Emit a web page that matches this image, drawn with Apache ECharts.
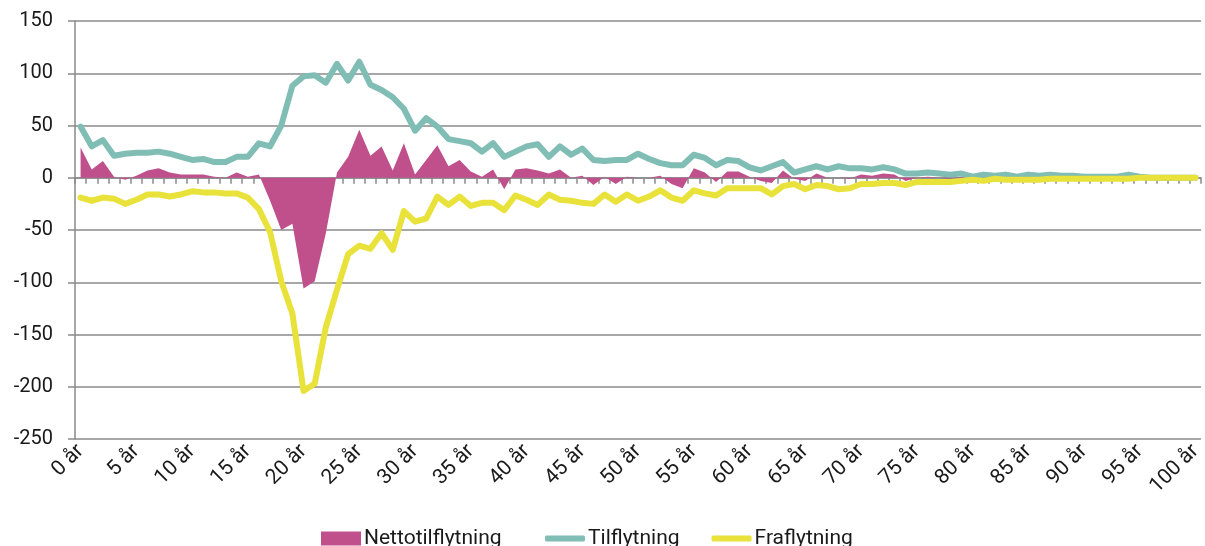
<!DOCTYPE html>
<html>
<head>
<meta charset="utf-8">
<script src="https://cdn.jsdelivr.net/npm/echarts@6/dist/echarts.min.js"></script>
<style>
html,body{margin:0;padding:0;background:#fff;}
#chart{width:1205px;height:546px;}
</style>
</head>
<body>
<div id="chart"></div>
<script>
const categories = [];
for (let a = 0; a <= 100; a++) categories.push(a + ' år');

const yTicks = [-250, -200, -150, -100, -50, 0, 50, 100, 150];

const nettotilflytning = [29,8,16,1,-2,2,7,9,5,3,3,3,1,0,5,1,3,-22,-50,-44,-106,-99,-53,5,20,46,21,30,7,33,3,17,31,11,17,6,1,8,-11,8,9,7,4,8,0,2,-7,1,-6,1,0,0,2,-6,-10,9,5,-4,6,6,1,-3,-5,7,-1,-3,4,0,0,-1,3,2,4,3,-3,0,1,0,-1,1,-1,0,1,1,-1,1,0,2,1,1,0,0,0,0,2,1,0,0,0,0,0];

const tilflytning = [49,30,36,21,23,24,24,25,23,20,17,18,15,15,20,20,33,30,50,88,97,98,91,109,93,111,89,84,77,66,45,57,49,37,35,33,25,33,20,25,30,32,20,30,22,28,17,16,17,17,23,18,14,12,12,22,19,12,17,16,10,7,11,15,5,8,11,8,11,9,9,8,10,8,4,4,5,4,3,4,1,3,2,3,1,3,2,3,2,2,1,1,1,1,3,1,0,0,0,0,0];

const fraflytning = [-19,-22,-19,-20,-25,-21,-16,-16,-18,-16,-13,-14,-14,-15,-15,-19,-30,-52,-99,-130,-204,-197,-143,-107,-73,-65,-68,-53,-69,-32,-42,-39,-18,-26,-18,-27,-24,-24,-31,-17,-21,-26,-16,-21,-22,-24,-25,-16,-23,-16,-22,-18,-12,-19,-22,-12,-15,-17,-10,-10,-10,-10,-16,-8,-6,-11,-7,-8,-11,-10,-6,-6,-5,-5,-7,-4,-4,-4,-4,-3,-2,-3,-1,-2,-2,-2,-2,-1,-1,-1,-1,-1,-1,-1,-1,0,0,0,0,0,0];

const FONT = 'Roboto, "Noto Sans", sans-serif';
const GRID = '#8a8a8a';
const C_NET = '#c0508c', C_TIL = '#80bdb4', C_FRA = '#e8e23a';

const legendText = {fontFamily: FONT, fontSize: 21, color: '#1a1a1a', padding: [0,0,0,-2]};

const chart = echarts.init(document.getElementById('chart'), null, {renderer: 'canvas'});
chart.setOption({
  animation: false,
  backgroundColor: '#ffffff',
  grid: {left: 75, right: 1, top: 21, bottom: 107, containLabel: false},
  legend: [
    {
      left: 316, top: 523, itemWidth: 40, itemHeight: 14, itemGap: 26,
      textStyle: legendText,
      data: [{name: 'Nettotilflytning', icon: 'rect', itemStyle: {color: C_NET, borderWidth: 0}}]
    },
    {
      left: 540, top: 523, itemWidth: 40, itemHeight: 6, itemGap: 32,
      textStyle: legendText,
      data: [
        {name: 'Tilflytning', icon: 'roundRect', itemStyle: {color: C_TIL, borderWidth: 0}},
        {name: 'Fraflytning', icon: 'roundRect', itemStyle: {color: C_FRA, borderWidth: 0}}
      ]
    }
  ],
  xAxis: [
    {
      type: 'category', data: categories, boundaryGap: true,
      axisLine: {show: true, onZero: true, lineStyle: {color: GRID, width: 1.5}},
      axisTick: {show: true, interval: 0, length: 6, lineStyle: {color: GRID, width: 1.5}},
      axisLabel: {show: false},
      splitLine: {show: false}
    },
    {
      type: 'category', data: categories, boundaryGap: true, position: 'bottom',
      axisLine: {show: false, onZero: false},
      axisTick: {show: false},
      axisLabel: {show: true, interval: 4, rotate: 45, margin: 9,
        fontFamily: FONT, fontSize: 21, color: '#1a1a1a'},
      splitLine: {show: false}
    }
  ],
  yAxis: {
    type: 'value', min: yTicks[0], max: yTicks[yTicks.length - 1], interval: 50,
    axisLine: {show: true, lineStyle: {color: GRID, width: 1.5}},
    axisTick: {show: true, length: 7, lineStyle: {color: GRID, width: 1.5}},
    axisLabel: {margin: 22, fontFamily: FONT, fontSize: 20, color: '#1a1a1a'},
    splitLine: {show: true, lineStyle: {color: GRID, width: 1.5}}
  },
  series: [
    {
      name: 'Nettotilflytning', type: 'line', xAxisIndex: 0,
      data: nettotilflytning, symbol: 'none', showSymbol: false,
      lineStyle: {width: 0, color: C_NET},
      itemStyle: {color: C_NET},
      areaStyle: {color: C_NET, opacity: 1, origin: 0},
      z: 1
    },
    {
      name: 'Tilflytning', type: 'line', xAxisIndex: 0,
      data: tilflytning, symbol: 'none', showSymbol: false,
      lineStyle: {width: 6, color: C_TIL, join: 'round', cap: 'round'},
      itemStyle: {color: C_TIL},
      z: 3
    },
    {
      name: 'Fraflytning', type: 'line', xAxisIndex: 0,
      data: fraflytning, symbol: 'none', showSymbol: false,
      lineStyle: {width: 6, color: C_FRA, join: 'round', cap: 'round'},
      itemStyle: {color: C_FRA},
      z: 4
    }
  ]
});
</script>
</body>
</html>
